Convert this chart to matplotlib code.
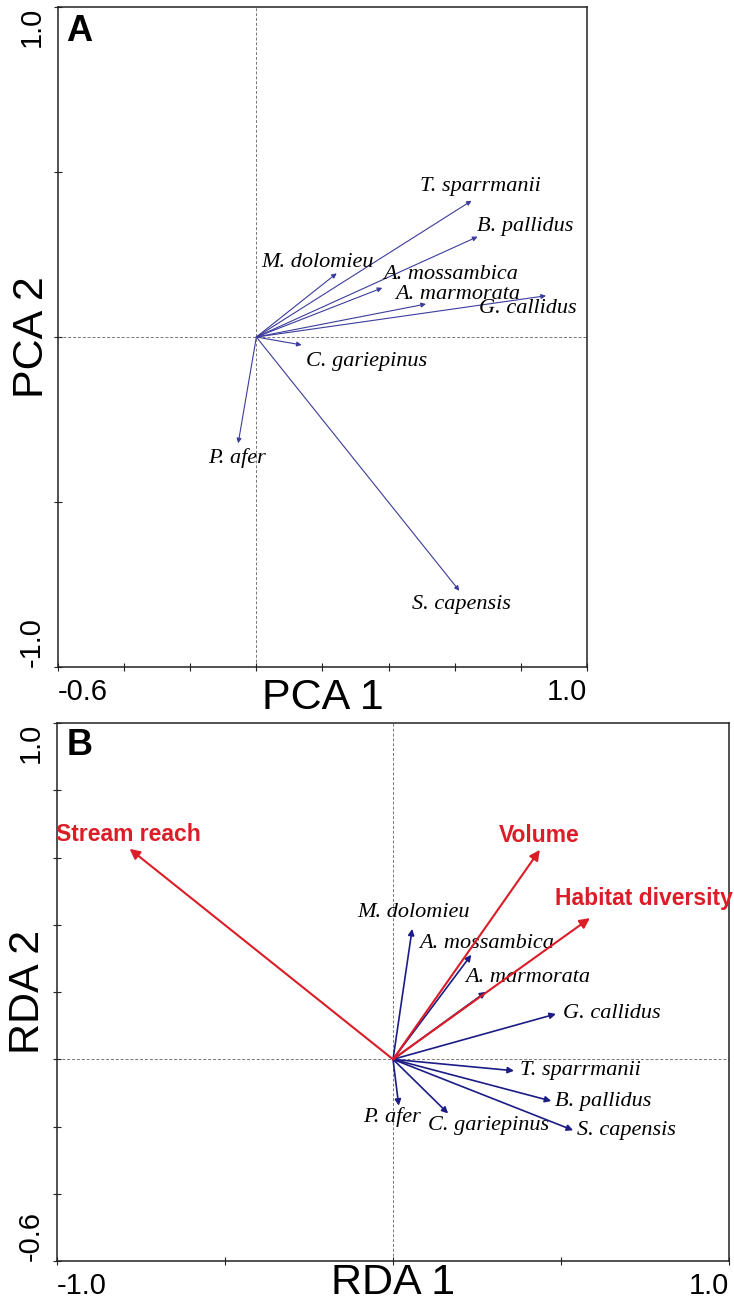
import matplotlib.pyplot as plt

# species loadings
species = ['T. sparrmanii', 'B. pallidus', 'M. dolomieu', 'A. mossambica', 'A. marmorata',
           'G. callidus', 'C. gariepinus', 'P. afer', 'S. capensis']
pca1 = [0.651, 0.669, 0.243, 0.381, 0.513, 0.876, 0.137, -0.055, 0.614]
pca2 = [0.413, 0.304, 0.193, 0.149, 0.100, 0.125, -0.024, -0.322, -0.769]
rda1 = [0.360, 0.471, 0.057, 0.233, 0.277, 0.485, 0.164, 0.017, 0.536]
rda2 = [-0.034, -0.124, 0.388, 0.311, 0.201, 0.135, -0.161, -0.138, -0.211]

# environmental variables (RDA)
env = ['Stream reach', 'Volume', 'Habitat diversity']
env1 = [-0.784, 0.437, 0.586]
env2 = [0.626, 0.623, 0.420]

# where each name is written
pca_lab = [(0.679, 0.455), (0.813, 0.336), (0.186, 0.227), (0.589, 0.188), (0.610, 0.130),
           (0.822, 0.085), (0.332, -0.073), (-0.059, -0.367), (0.619, -0.812)]
rda_lab = [(0.557, -0.034), (0.625, -0.124), (0.060, 0.436), (0.280, 0.344), (0.402, 0.243),
           (0.652, 0.135), (0.283, -0.198), (-0.003, -0.171), (0.696, -0.213)]
env_lab = [(-0.787, 0.668), (0.435, 0.665), (0.747, 0.478)]

plt.rcParams['font.family'] = ['Liberation Sans', 'DejaVu Sans']

fig = plt.figure(figsize=(7.34, 13.01), dpi=100)
axA = fig.add_axes([0.0790, 0.4873, 0.7207, 0.5073])
axB = fig.add_axes([0.0777, 0.0307, 0.9155, 0.4135])

navy_a = '#3c3c9c'
navy_b = '#1c1c86'
red = '#dc1c26'


def arrow(ax, x, y, color, lw, size):
    ax.annotate('', xy=(x, y), xytext=(0, 0),
                arrowprops=dict(arrowstyle='-|>', color=color, lw=lw,
                                mutation_scale=size, shrinkA=0, shrinkB=0))


def style(ax, xlim, ylim, xticks, yticks, xl, yl, letter, xlab_y, ylab_x):
    ax.set_xlim(xlim)
    ax.set_ylim(ylim)
    ax.axhline(0, color='#777777', lw=0.7, ls=(0, (3, 2)), zorder=0)
    ax.axvline(0, color='#777777', lw=0.7, ls=(0, (3, 2)), zorder=0)
    for s in ax.spines.values():
        s.set_linewidth(1.1)
        s.set_color('#222222')
    ax.set_xticks(xticks)
    ax.set_yticks(yticks)
    xt = [''] * len(xticks)
    xt[0], xt[-1] = f'{xticks[0]:.1f}', f'{xticks[-1]:.1f}'
    yt = [''] * len(yticks)
    yt[0], yt[-1] = f'{yticks[0]:.1f}', f'{yticks[-1]:.1f}'
    ax.set_xticklabels(xt, fontsize=21)
    ax.set_yticklabels(yt, fontsize=21, rotation=90)
    ax.tick_params(direction='inout', length=5.5, width=0.8, color='#222222')
    ax.tick_params(axis='x', pad=5)
    ax.tick_params(axis='y', pad=6)
    lx = ax.get_xticklabels()
    lx[0].set_ha('left')
    lx[-1].set_ha('right')
    ly = ax.get_yticklabels()
    ly[0].set_va('bottom')
    ly[-1].set_va('top')
    ax.text(0.5, xlab_y, xl, transform=ax.transAxes, fontsize=31,
            ha='center', va='baseline')
    ax.text(ylab_x, 0.5, yl, transform=ax.transAxes, fontsize=31,
            ha='center', va='center', rotation=90)
    ax.text(0.015, 0.99, letter, transform=ax.transAxes, fontsize=26,
            fontweight='bold', ha='left', va='top')


# A: PCA
style(axA, (-0.6, 1.0), (-1.0, 1.0), [-0.6, -0.4, -0.2, 0.0, 0.2, 0.4, 0.6, 0.8, 1.0],
      [-1.0, -0.5, 0.0, 0.5, 1.0], 'PCA 1', 'PCA 2', 'A', -0.064, -0.05)
for i, name in enumerate(species):
    arrow(axA, pca1[i], pca2[i], navy_a, 0.8, 7)
    axA.text(pca_lab[i][0], pca_lab[i][1], name, family='Liberation Serif',
             style='italic', fontsize=16, ha='center', va='center')

# B: RDA
style(axB, (-1.0, 1.0), (-0.6, 1.0), [-1.0, -0.5, 0.0, 0.5, 1.0],
      [-0.6, -0.4, -0.2, 0.0, 0.2, 0.4, 0.6, 0.8, 1.0], 'RDA 1', 'RDA 2', 'B', -0.061, -0.043)
for i, name in enumerate(species):
    arrow(axB, rda1[i], rda2[i], navy_b, 1.2, 9)
    axB.text(rda_lab[i][0], rda_lab[i][1], name, family='Liberation Serif',
             style='italic', fontsize=16, ha='center', va='center')
for i, name in enumerate(env):
    arrow(axB, env1[i], env2[i], red, 1.5, 15)
    axB.text(env_lab[i][0], env_lab[i][1], name, color=red, fontsize=16.5,
             fontweight='bold', ha='center', va='center', clip_on=False)

fig.savefig('out.png', dpi=100)
